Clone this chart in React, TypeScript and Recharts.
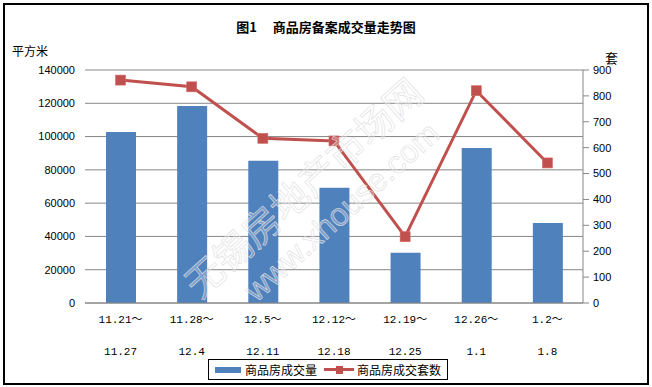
import { ComposedChart, Bar, Line, XAxis, YAxis, CartesianGrid } from "recharts";

document.body.style.margin = "0";

const weekStart = ["11.21～", "11.28～", "12.5～", "12.12～", "12.19～", "12.26～", "1.2～"];
const weekEnd = ["11.27", "12.4", "12.11", "12.18", "12.25", "1.1", "1.8"];
const area = [102700, 118400, 85500, 69300, 30200, 93100, 48100];
const units = [861, 835, 636, 626, 256, 820, 541];
const leftTicks = [0, 20000, 40000, 60000, 80000, 100000, 120000, 140000];
const rightTicks = [0, 100, 200, 300, 400, 500, 600, 700, 800, 900];

const data = weekStart.map((s, i) => ({ start: s, end: weekEnd[i], area: area[i], units: units[i] }));

const BLUE = "#4F81BD";
const RED = "#C0504D";
const GRID = "#868686";
const CJK = "'Noto Sans CJK SC', sans-serif";
const NUM = "'Liberation Sans', Arial, sans-serif";
const MONO = "'Liberation Mono', 'Noto Sans CJK SC', monospace";

function WeekTick({ x, y, payload }: any) {
  const row = data[payload.index];
  return (
    <g transform={`translate(${x},${y})`}>
      <text x={0} y={9} textAnchor="middle" dominantBaseline="central" fontSize={11} fontFamily={MONO} fill="#000">
        {row.start}
      </text>
      <text x={0} y={41} textAnchor="middle" dominantBaseline="central" fontSize={11} fontFamily={MONO} fill="#000">
        {row.end}
      </text>
    </g>
  );
}

function SquareDot({ cx, cy }: any) {
  if (cx == null || cy == null) return null;
  return <rect x={cx - 5} y={cy - 5} width={10} height={10} fill={RED} stroke="#d46a67" strokeWidth={0.6} />;
}

export default function App() {
  return (
    <div style={{ position: "relative", width: 652, height: 387, background: "#fff", fontFamily: CJK }}>
      <div style={{ position: "absolute", left: 3, top: 3, width: 642, height: 378, border: "2px solid #000" }} />
      <div style={{ position: "absolute", left: 0, top: 17, width: 652, textAlign: "center", fontSize: 13, fontWeight: "bold", whiteSpace: "pre" }}>
        {"图1\u3000 商品房备案成交量走势图"}
      </div>
      <div style={{ position: "absolute", left: 12, top: 42, fontSize: 12 }}>平方米</div>
      <div style={{ position: "absolute", left: 605, top: 48, fontSize: 13 }}>套</div>
      <div style={{ position: "absolute", left: 0, top: 0 }}>
        <ComposedChart width={652} height={387} data={data} margin={{ top: 70, right: 0, bottom: 0, left: 0 }}>
          <CartesianGrid yAxisId="left" vertical={false} stroke={GRID} strokeWidth={1} />
          <XAxis
            dataKey="start"
            height={84}
            axisLine={{ stroke: GRID }}
            tickLine={false}
            interval={0}
            tick={<WeekTick />}
          />
          <YAxis
            yAxisId="left"
            width={85}
            domain={[0, 140000]}
            ticks={leftTicks}
            axisLine={false}
            tickLine={false}
            tickMargin={4}
            tick={{ fill: "#000", fontSize: 11, fontFamily: NUM }}
          />
          <YAxis
            yAxisId="right"
            orientation="right"
            width={69}
            domain={[0, 900]}
            ticks={rightTicks}
            axisLine={{ stroke: GRID }}
            tickLine={{ stroke: GRID }}
            tickSize={6}
            tickMargin={4}
            tick={{ fill: "#000", fontSize: 11, fontFamily: NUM }}
          />
          <Bar yAxisId="left" dataKey="area" fill={BLUE} barSize={30} isAnimationActive={false} />
          <Line
            yAxisId="right"
            dataKey="units"
            stroke={RED}
            strokeWidth={3}
            dot={<SquareDot />}
            activeDot={false}
            isAnimationActive={false}
          />
        </ComposedChart>
      </div>
      {/* faint site watermark */}
      <svg width={652} height={387} style={{ position: "absolute", left: 0, top: 0, pointerEvents: "none" }}>
        <g transform="translate(200,300) rotate(-42)">
          <text x={0} y={0} fontSize={38} fontFamily={CJK} fill="#fff" fillOpacity={0.25} stroke="#dedede" strokeWidth={0.6}>
            无锡房地产市场网
          </text>
          <text x={40} y={40} fontSize={32} fontFamily={NUM} fill="#fff" fillOpacity={0.25} stroke="#dedede" strokeWidth={0.6}>
            www.xhouse.com
          </text>
        </g>
      </svg>
      <div
        style={{
          position: "absolute",
          left: 208,
          top: 359,
          width: 238,
          height: 19,
          border: "1px solid #000",
          display: "flex",
          alignItems: "center",
          fontSize: 12,
          background: "#fff",
        }}
      >
        <span style={{ display: "inline-block", width: 26, height: 6, background: BLUE, marginLeft: 6, marginRight: 4 }} />
        <span>商品房成交量</span>
        <span style={{ position: "relative", display: "inline-block", width: 30, height: 10, marginLeft: 7, marginRight: 3 }}>
          <span style={{ position: "absolute", left: 0, top: 3.5, width: 30, height: 3, background: RED }} />
          <span style={{ position: "absolute", left: 12, top: 1, width: 7, height: 8, background: RED }} />
        </span>
        <span>商品房成交套数</span>
      </div>
    </div>
  );
}
